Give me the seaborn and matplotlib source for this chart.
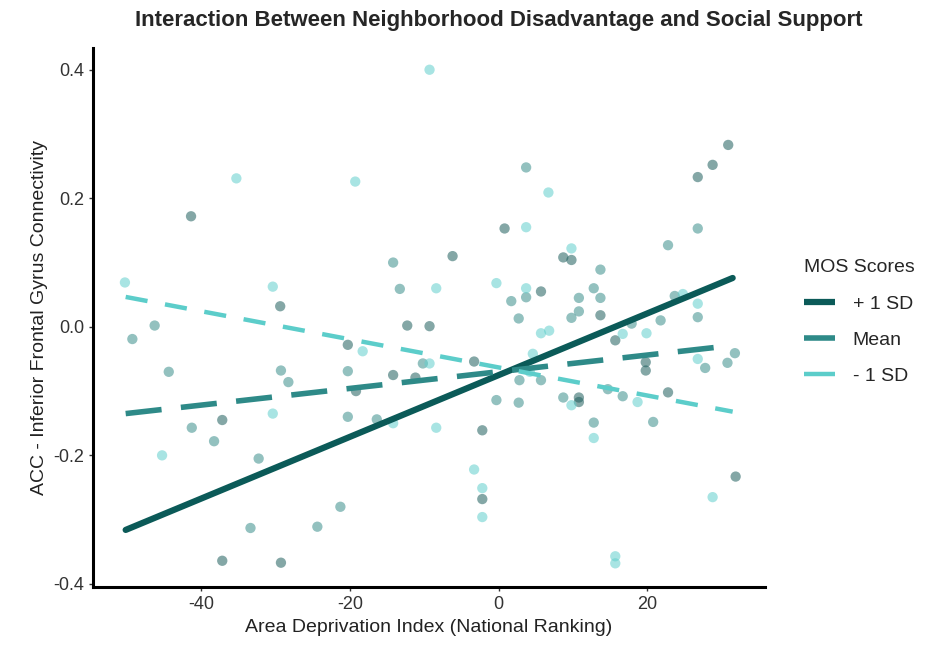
import numpy as np
import pandas as pd
import matplotlib
matplotlib.use("Agg")
import matplotlib.pyplot as plt
import seaborn as sns

sns.set_style("ticks")
plt.rcParams['font.family'] = ['Liberation Sans', 'DejaVu Sans']
plt.rcParams['axes.unicode_minus'] = False

# scatter points: (ADI ranking, connectivity)
plus_x = [-41.4, -29.4, 0.8, -6.2, 5.7, -12.3, -9.3, 30.9, 28.8, 26.8, 8.7, 9.8, 13.7,
          -37.2, -37.2, -29.3, -20.3, -3.3, -14.2, -11.2, -19.2, -2.2, -2.2,
          15.7, 10.8, 10.8, 19.8, 19.8, 22.8, 31.9]
plus_y = [0.172, 0.032, 0.153, 0.110, 0.055, 0.002, 0.001, 0.283, 0.252, 0.233, 0.108, 0.104, 0.018,
          -0.145, -0.364, -0.367, -0.028, -0.054, -0.075, -0.079, -0.100, -0.161, -0.268,
          -0.021, -0.110, -0.117, -0.055, -0.068, -0.102, -0.233]

mean_x = [-46.3, 3.7, -14.2, -13.3, 3.7, 1.7, 2.7, 26.8, 22.8, 13.7, 12.8, 10.8, 13.7, 10.8, 9.8,
          23.7, 26.8, 21.8, 17.9, -49.3, -44.4, -29.3, -28.3, -41.3, -38.3, -32.3, -33.4, -24.4,
          -10.2, -20.3, 2.8, 5.7, -0.3, 2.7, -20.3, -16.4, -21.3,
          8.7, 14.7, 16.7, 27.8, 30.8, 31.8, 12.8, 20.8]
mean_y = [0.002, 0.248, 0.100, 0.059, 0.046, 0.040, 0.013, 0.153, 0.127, 0.089, 0.060, 0.045, 0.045, 0.024, 0.014,
          0.048, 0.015, 0.010, 0.005, -0.019, -0.070, -0.068, -0.086, -0.157, -0.178, -0.205, -0.313, -0.311,
          -0.057, -0.069, -0.083, -0.083, -0.114, -0.118, -0.140, -0.144, -0.280,
          -0.110, -0.097, -0.108, -0.064, -0.056, -0.041, -0.149, -0.148]

minus_x = [-35.3, -50.3, -30.4, -9.3, -19.3, 6.7, 3.7, -8.4, -0.3, 3.7, 9.8, 24.8, 26.8,
           -30.4, -45.3, 5.7, 6.8, -18.3, -9.3, 4.6, 4.2, -14.2, -8.4, -3.3, -2.2, -2.2,
           16.7, 19.9, 9.8, 18.7, 26.8, 12.8, 28.8, 15.7, 15.7]
minus_y = [0.231, 0.069, 0.0625, 0.400, 0.226, 0.209, 0.155, 0.060, 0.068, 0.060, 0.122, 0.051, 0.036,
           -0.135, -0.200, -0.010, -0.006, -0.038, -0.057, -0.042, -0.070, -0.150, -0.157, -0.222, -0.251, -0.296,
           -0.011, -0.010, -0.122, -0.117, -0.050, -0.173, -0.265, -0.357, -0.368]

# fitted simple slopes, endpoints
line_x = [-50.2, 31.5]
plus_line = [-0.316, 0.076]
mean_line = [-0.135, -0.029]
minus_line = [0.0465, -0.132]

groups = ['+ 1 SD', 'Mean', '- 1 SD']
colors = {'+ 1 SD': '#0b5a58', 'Mean': '#2e8a88', '- 1 SD': '#5ccdca'}
pt_colors = {'+ 1 SD': '#1f5f5e', 'Mean': '#3a8e8c', '- 1 SD': '#62cfcc'}

pts = pd.concat([
    pd.DataFrame({'adi': plus_x, 'conn': plus_y, 'mos': '+ 1 SD'}),
    pd.DataFrame({'adi': mean_x, 'conn': mean_y, 'mos': 'Mean'}),
    pd.DataFrame({'adi': minus_x, 'conn': minus_y, 'mos': '- 1 SD'}),
])
lines = {'+ 1 SD': plus_line, 'Mean': mean_line, '- 1 SD': minus_line}

fig = plt.figure(figsize=(9.42, 6.56), dpi=100)
ax = fig.add_axes([0.0987, 0.105, 0.713, 0.822])

sns.scatterplot(data=pts, x='adi', y='conn', hue='mos', palette=pt_colors, alpha=0.55,
                s=55, edgecolor='none', legend=False, ax=ax)

line_style = {'+ 1 SD': dict(lw=4.5, ls='-'),
              'Mean': dict(lw=4.0, ls=(0, (6.5, 3.5))),
              '- 1 SD': dict(lw=3.2, ls=(0, (5, 4)))}
handles = []
for g in groups:
    sns.lineplot(x=line_x, y=lines[g], color=colors[g], ax=ax,
                 linewidth=line_style[g]['lw'], linestyle=line_style[g]['ls'])
    handles.append(plt.Line2D([], [], color=colors[g], linewidth=line_style[g]['lw'],
                              solid_capstyle='butt'))

ax.set_xlim(-54.6, 35.8)
ax.set_ylim(-0.405, 0.434)
ax.set_xticks([-40, -20, 0, 20])
ax.set_yticks([-0.4, -0.2, 0.0, 0.2, 0.4])
ax.set_yticklabels(['-0.4', '-0.2', '0.0', '0.2', '0.4'])
ax.tick_params(labelsize=13, colors='#333333', length=3, width=1)
for side in ['left', 'bottom']:
    ax.spines[side].set_linewidth(2.2)
    ax.spines[side].set_color('black')
sns.despine(ax=ax)

ax.set_xlabel('Area Deprivation Index (National Ranking)', fontsize=14, color='#222222')
ax.set_ylabel('ACC - Inferior Frontal Gyrus Connectivity', fontsize=14, color='#222222')
fig.suptitle('Interaction Between Neighborhood Disadvantage and Social Support',
             x=0.529, y=0.985, fontsize=16, fontweight='bold')

leg = ax.legend(handles=handles, labels=groups, title='MOS Scores', frameon=False,
                loc='upper left', bbox_to_anchor=(0.835, 0.632),
                bbox_transform=fig.transFigure, fontsize=14, title_fontsize=14,
                handlelength=1.6, labelspacing=0.95, handletextpad=0.9)
leg._legend_box.align = 'left'
leg._legend_box.sep = 14

fig.savefig('out.png', dpi=100)
